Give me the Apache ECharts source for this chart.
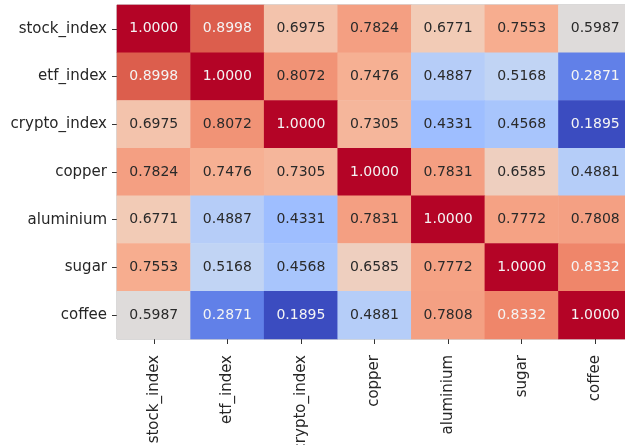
<!DOCTYPE html>
<html><head><meta charset="utf-8">
<script src="https://cdn.jsdelivr.net/npm/echarts@6/dist/echarts.min.js"></script>
<style>html,body{margin:0;padding:0;background:#fff}#c{width:625px;height:445px}</style>
</head><body><div id="c"></div>
<script>
const categories = ['stock_index','etf_index','crypto_index','copper','aluminium','sugar','coffee'];
const stock_index  = [1.0000, 0.8998, 0.6975, 0.7824, 0.6771, 0.7553, 0.5987];
const etf_index    = [0.8998, 1.0000, 0.8072, 0.7476, 0.4887, 0.5168, 0.2871];
const crypto_index = [0.6975, 0.8072, 1.0000, 0.7305, 0.4331, 0.4568, 0.1895];
const copper       = [0.7824, 0.7476, 0.7305, 1.0000, 0.7831, 0.6585, 0.4881];
const aluminium    = [0.6771, 0.4887, 0.4331, 0.7831, 1.0000, 0.7772, 0.7808];
const sugar        = [0.7553, 0.5168, 0.4568, 0.6585, 0.7772, 1.0000, 0.8332];
const coffee       = [0.5987, 0.2871, 0.1895, 0.4881, 0.7808, 0.8332, 1.0000];
const rows = [stock_index, etf_index, crypto_index, copper, aluminium, sugar, coffee];

const coolwarm = ['#3b4cc0','#5a78e4','#7b9ff9','#9ebeff','#c0d4f5','#dddcdc','#f2cbb7','#f7ac8e','#ee8468','#d65244','#b40426'];
let vmin = Infinity, vmax = -Infinity;
rows.forEach(r => r.forEach(v => { vmin = Math.min(vmin, v); vmax = Math.max(vmax, v); }));

const data = [];
rows.forEach((r, yi) => r.forEach((v, xi) => {
  const t = (v - vmin) / (vmax - vmin);
  const light = t > 0.78 || t < 0.15;
  data.push({ value: [xi, yi, v], label: { color: light ? '#f4f4f4' : '#2a2a2a' } });
}));

const font = 'DejaVu Sans';
const chart = echarts.init(document.getElementById('c'));
chart.setOption({
  backgroundColor: '#ffffff',
  animation: false,
  grid: { left: 117, top: 5, width: 515, height: 334, containLabel: false, outerBoundsMode: 'none',
          show: true, borderColor: '#b0b0b0', borderWidth: 1, backgroundColor: 'transparent' },
  xAxis: {
    type: 'category', data: categories, position: 'bottom',
    axisLine: { show: false },
    axisTick: { show: true, alignWithLabel: true, length: 5, lineStyle: { color: '#333' } },
    axisLabel: { rotate: 90, margin: 16, fontFamily: font, fontSize: 15, color: '#262626' },
    splitLine: { show: false }
  },
  yAxis: {
    type: 'category', data: categories, inverse: true,
    axisLine: { show: false },
    axisTick: { show: true, alignWithLabel: true, length: 5, lineStyle: { color: '#333' } },
    axisLabel: { margin: 10, fontFamily: font, fontSize: 15, color: '#262626' },
    splitLine: { show: false }
  },
  visualMap: { show: false, min: vmin, max: vmax, dimension: 2, inRange: { color: coolwarm } },
  series: [{
    type: 'heatmap', data: data,
    label: { show: true, fontFamily: font, fontSize: 14, formatter: p => p.value[2].toFixed(4) },
    emphasis: { disabled: true }
  }]
});
</script></body></html>
